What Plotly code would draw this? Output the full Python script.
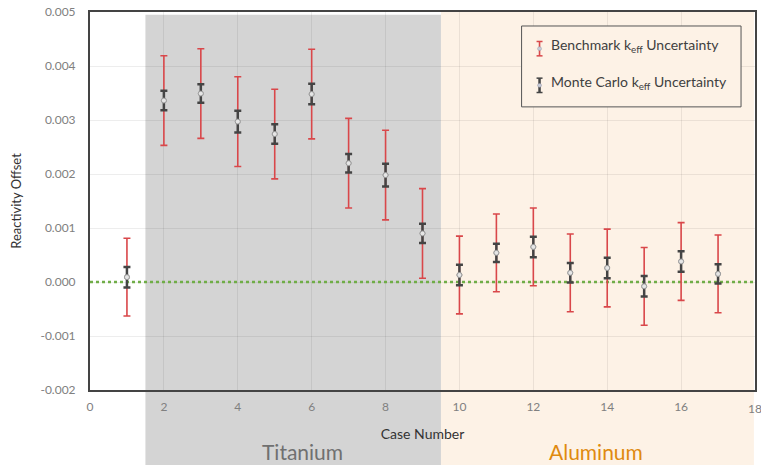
import plotly.graph_objects as go

# Case numbers and reactivity offsets
cases = list(range(1, 18))
offset = [0.00009, 0.00336, 0.00349, 0.00297, 0.00274, 0.00348, 0.00220, 0.00198, 0.00090,
          0.00013, 0.00054, 0.00065, 0.00017, 0.00026, -0.00008, 0.00038, 0.00015]
# Benchmark keff uncertainty (1 sigma)
bench_unc = [0.00072, 0.00083, 0.00083, 0.00083, 0.00083, 0.00083, 0.00083, 0.00083, 0.00083,
             0.00072, 0.00072, 0.00072, 0.00072, 0.00072, 0.00072, 0.00072, 0.00072]
# Monte Carlo keff uncertainty
mc_unc = [0.00019, 0.00018, 0.00017, 0.00020, 0.00018, 0.00019, 0.00017, 0.00021, 0.00018,
          0.00019, 0.00017, 0.00019, 0.00018, 0.00019, 0.00019, 0.00019, 0.00018]

# Material groups (case ranges)
titanium_range = [1.5, 9.5]
aluminum_range = [9.5, 18]
x_ticks = [0, 2, 4, 6, 8, 10, 12, 14, 16, 18]
y_ticks = [-0.002, -0.001, 0.0, 0.001, 0.002, 0.003, 0.004, 0.005]
y_ticktext = [f"{v:.3f}".replace("\u2212", "-") for v in y_ticks]

series_names = ["Benchmark k<sub>eff</sub> Uncertainty", "Monte Carlo k<sub>eff</sub> Uncertainty"]

FONT = "Lato"
GRAY_BG = "#d4d4d4"
BEIGE_BG = "#fdf2e6"
RED = "#d9474a"
DARK = "#444444"
TICK_GRAY = "#808080"

fig = go.Figure()

# zero reference line
fig.add_trace(go.Scatter(
    x=[0, 18], y=[0, 0], mode="lines",
    line=dict(color="#70ad47", width=2.5, dash="dot"),
    showlegend=False, hoverinfo="skip",
))

marker = dict(size=5, color="#e6e6e6", line=dict(color="#9a9a9a", width=1))

fig.add_trace(go.Scatter(
    x=cases, y=offset, mode="markers", name=series_names[0],
    marker=marker, showlegend=False,
    error_y=dict(type="data", array=bench_unc, color=RED, thickness=1.6, width=3.5),
))
fig.add_trace(go.Scatter(
    x=cases, y=offset, mode="markers", name=series_names[1],
    marker=marker, showlegend=False,
    error_y=dict(type="data", array=mc_unc, color=DARK, thickness=2.5, width=3.5),
))

# shaded material regions extending below the axis
fig.add_shape(type="rect", xref="x", yref="paper",
              x0=titanium_range[0], x1=titanium_range[1], y0=-0.2, y1=0.993,
              fillcolor=GRAY_BG, line_width=0, layer="below")
fig.add_shape(type="rect", xref="x", yref="paper",
              x0=aluminum_range[0], x1=aluminum_range[1] - 0.03, y0=-0.2, y1=1.0,
              fillcolor=BEIGE_BG, line_width=0, layer="below")

fig.add_annotation(x=5.75, y=-0.2, xref="x", yref="paper", yanchor="bottom", text="Titanium",
                   showarrow=False, font=dict(family=FONT, size=21, color="#707070"))
fig.add_annotation(x=13.7, y=-0.2, xref="x", yref="paper", yanchor="bottom", text="Aluminum",
                   showarrow=False, font=dict(family=FONT, size=21, color="#e08a10"))

# last x tick label sits on the plot edge
fig.add_annotation(x=18, y=0, xref="x", yref="paper", yanchor="middle", yshift=-18,
                   text=str(x_ticks[-1]), showarrow=False,
                   font=dict(family=FONT, size=12, color=TICK_GRAY))

# legend box with error-bar keys
fig.add_shape(type="rect", xref="paper", yref="paper", x0=0.649, x1=0.979, y0=0.749, y1=0.963,
              fillcolor=BEIGE_BG, line=dict(color="#555555", width=1), layer="above")
key_rows = [(0.903, RED, 1.6), (0.806, DARK, 2.5)]
for (yc, col, w), label in zip(key_rows, series_names):
    xk = 0.676
    half = 0.019
    cap = 0.0045
    fig.add_shape(type="line", xref="paper", yref="paper", x0=xk, x1=xk, y0=yc - half, y1=yc + half,
                  line=dict(color=col, width=w), layer="above")
    for yy in (yc - half, yc + half):
        fig.add_shape(type="line", xref="paper", yref="paper", x0=xk - cap, x1=xk + cap, y0=yy, y1=yy,
                      line=dict(color=col, width=1.5), layer="above")
    fig.add_shape(type="circle", xref="paper", yref="paper",
                  x0=xk - 0.003, x1=xk + 0.003, y0=yc - 0.005, y1=yc + 0.005,
                  fillcolor="#c8ccd8", line=dict(color="#9a9aaa", width=0.5), layer="above")
    fig.add_annotation(x=0.6897, y=yc, xref="paper", yref="paper", xanchor="left", yanchor="middle",
                       yshift=3, text=label, showarrow=False,
                       font=dict(family=FONT, size=14, color="#404040"))

fig.update_layout(
    width=761, height=465,
    margin=dict(l=90, r=4, t=8, b=75),
    paper_bgcolor="white", plot_bgcolor="white",
    font=dict(family=FONT, size=12, color="#333333"),
    showlegend=False,
    xaxis=dict(
        range=[0, 18], tickvals=x_ticks[:-1], showgrid=True,
        gridcolor="rgba(0,0,0,0.07)", gridwidth=1,
        showline=True, linecolor=DARK, linewidth=2, mirror=True,
        zeroline=False, ticks="", ticklabelstandoff=5,
        tickfont=dict(family=FONT, size=12, color=TICK_GRAY),
        title=dict(text="Case Number", font=dict(family=FONT, size=14, color="#333333"), standoff=16),
    ),
    yaxis=dict(
        range=[-0.002, 0.005], tickvals=y_ticks, ticktext=y_ticktext, showgrid=True,
        gridcolor="rgba(0,0,0,0.07)", gridwidth=1,
        showline=True, linecolor=DARK, linewidth=2, mirror=True,
        zeroline=False, ticks="", ticklabelstandoff=10,
        tickfont=dict(family=FONT, size=12, color=TICK_GRAY),
        title=dict(text="Reactivity Offset", font=dict(family=FONT, size=13, color="#333333"), standoff=16),
    ),
)

fig.write_html("out.html")
